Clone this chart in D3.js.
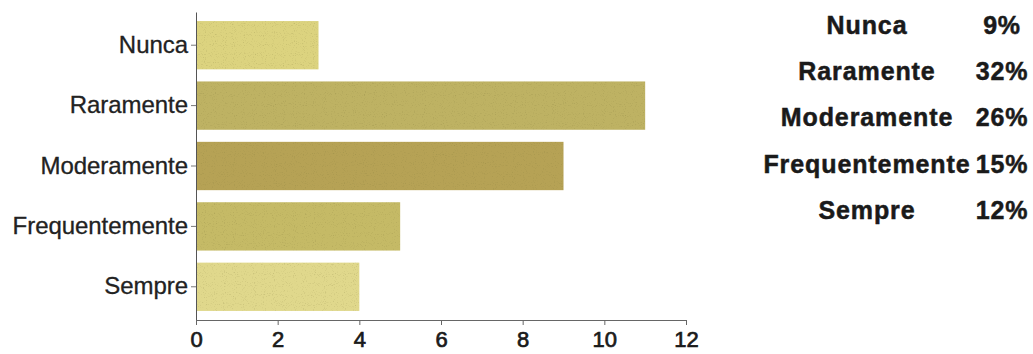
<!DOCTYPE html>
<html>
<head>
<meta charset="utf-8">
<script src="https://cdn.jsdelivr.net/npm/d3@7"></script>
<style>
  body { margin: 0; background: #fff; }
</style>
</head>
<body>
<script>
const categories = ["Nunca", "Raramente", "Moderamente", "Frequentemente", "Sempre"];
const counts = [3, 11, 9, 5, 4];
const percents = ["9%", "32%", "26%", "15%", "12%"];
const barColors = ["#dcd37f", "#beb263", "#b6a255", "#c5ba66", "#e0d88c"];
const xTicks = [0, 2, 4, 6, 8, 10, 12];

const width = 1033, height = 354;

const svg = d3.select("body").append("svg")
    .attr("width", width)
    .attr("height", height)
    .style("display", "block");

// speckle texture like the scanned print
const filter = svg.append("defs").append("filter")
    .attr("id", "grain")
    .attr("x", 0).attr("y", 0).attr("width", 1).attr("height", 1);
filter.append("feTurbulence")
    .attr("type", "fractalNoise")
    .attr("baseFrequency", 0.9)
    .attr("numOctaves", 1)
    .attr("seed", 3)
    .attr("result", "noise");
filter.append("feColorMatrix")
    .attr("in", "noise")
    .attr("type", "matrix")
    .attr("values", "0 0 0 0 0.25  0 0 0 0 0.22  0 0 0 0 0.05  0 0 0 -1.4 0.6")
    .attr("result", "dots");
filter.append("feComposite")
    .attr("in", "dots").attr("in2", "SourceGraphic")
    .attr("operator", "atop");

const x = d3.scaleLinear().domain([0, 12]).range([196, 686]);
const y = d3.scaleBand()
    .domain(categories)
    .range([12, 320])
    .paddingInner(0.2)
    .paddingOuter(0.15);

svg.append("g")
  .selectAll("rect")
  .data(categories)
  .join("rect")
    .attr("x", x(0))
    .attr("y", d => y(d))
    .attr("width", (d, i) => x(counts[i]) - x(0))
    .attr("height", y.bandwidth())
    .attr("fill", (d, i) => barColors[i])
    .attr("filter", "url(#grain)");

const yAxis = svg.append("g")
    .attr("transform", `translate(${x(0)},0)`)
    .call(d3.axisLeft(y).tickSize(5).tickPadding(3).tickSizeOuter(0));
yAxis.select(".domain").attr("stroke", "#555");
yAxis.selectAll(".tick line").attr("stroke", "#777");
yAxis.selectAll("text")
    .attr("font-family", "Liberation Sans, Arial, sans-serif")
    .attr("font-size", 24)
    .attr("letter-spacing", "-0.05px")
    .attr("fill", "#222")
    .attr("stroke", "#222")
    .attr("stroke-width", 0.3);

const xAxis = svg.append("g")
    .attr("transform", "translate(0,320)")
    .call(d3.axisBottom(x).tickValues(xTicks).tickSize(5).tickPadding(6).tickSizeOuter(0));
xAxis.select(".domain").attr("stroke", "#666");
xAxis.selectAll(".tick line").attr("stroke", "#666");
xAxis.selectAll("text")
    .attr("font-family", "Liberation Sans, Arial, sans-serif")
    .attr("font-size", 22)
    .attr("fill", "#1a1a1a")
    .attr("stroke", "#1a1a1a")
    .attr("stroke-width", 0.7);

// summary table on the right
const rowY = d3.scalePoint().domain(categories).range([25, 210]);
const table = svg.append("g")
    .attr("font-family", "Liberation Sans, Arial, sans-serif")
    .attr("font-weight", "bold")
    .attr("font-size", 25)
    .attr("fill", "#1a1a1a")
    .attr("stroke", "#1a1a1a")
    .attr("stroke-width", 0.5)
    .attr("text-anchor", "middle");

table.selectAll("text.cat")
  .data(categories)
  .join("text")
    .attr("class", "cat")
    .attr("x", 867)
    .attr("y", d => rowY(d))
    .attr("dy", "0.35em")
    .attr("letter-spacing", "0.9px")
    .text(d => d);

table.selectAll("text.pct")
  .data(categories)
  .join("text")
    .attr("class", "pct")
    .attr("x", 1002)
    .attr("y", d => rowY(d))
    .attr("dy", "0.35em")
    .attr("letter-spacing", "0.8px")
    .text((d, i) => percents[i]);
</script>
</body>
</html>
